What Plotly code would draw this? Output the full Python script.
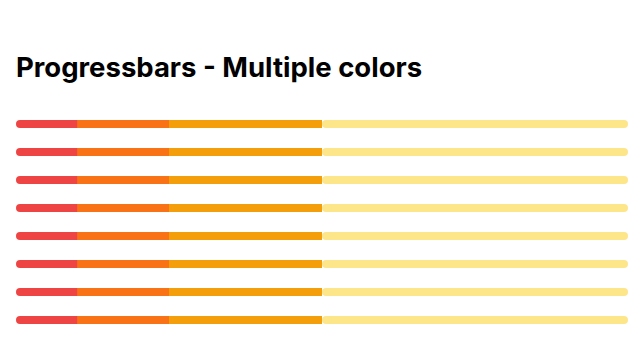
import plotly.graph_objects as go

# Progress rows and the share of each colored segment (percent of the track)
rows = ["Row 1", "Row 2", "Row 3", "Row 4", "Row 5", "Row 6", "Row 7", "Row 8"]
red_share = [10, 10, 10, 10, 10, 10, 10, 10]
orange_share = [15, 15, 15, 15, 15, 15, 15, 15]
amber_share = [25, 25, 25, 25, 25, 25, 25, 25]
yellow_share = [50, 50, 50, 50, 50, 50, 50, 50]

colors = {"red": "#ef4444", "orange": "#f97316", "amber": "#f59e0b", "yellow": "#fde68a"}

W, H = 644, 339
ml, mr, mt, mb = 16, 16, 110, 5
bar_px = 8
row_px = (H - mt - mb) / len(rows)
bw = bar_px / row_px

# Segment starts are the running sums of the shares before them
orange_base = red_share
amber_base = [a + b for a, b in zip(red_share, orange_share)]
yellow_base = [a + b for a, b in zip(amber_base, amber_share)]


def seg(x, base, color, radius):
    return go.Bar(y=rows, x=x, base=base, orientation="h", width=bw,
                  marker=dict(color=color, cornerradius=radius, line=dict(width=0)),
                  hoverinfo="skip")


fig = go.Figure()
# Yellow tail, rounded at the right end of the track
fig.add_trace(seg(yellow_share, yellow_base, colors["yellow"], "50%"))
# Red head: drawn leftwards from the end of the orange segment so its rounded
# tip lands at 0; the orange segment is laid over the part past the red share
fig.add_trace(seg([-v for v in amber_base], amber_base, colors["red"], "50%"))
fig.add_trace(seg(orange_share, orange_base, colors["orange"], 0))
fig.add_trace(seg(amber_share, amber_base, colors["amber"], 0))

fig.add_annotation(
    text="<b>Progressbars - Multiple colors</b>",
    xref="paper", yref="paper", x=-2 / (W - ml - mr), y=(H - mb - 67) / (H - mt - mb),
    xanchor="left", yanchor="middle", showarrow=False,
    font=dict(family="Inter", size=27.5, color="#000000"))

fig.update_layout(
    width=W, height=H, barmode="overlay", showlegend=False,
    margin=dict(l=ml, r=mr, t=mt, b=mb, pad=0),
    paper_bgcolor="white", plot_bgcolor="white",
    xaxis=dict(range=[0, 100], visible=False, fixedrange=True),
    yaxis=dict(categoryorder="array", categoryarray=rows, autorange="reversed",
               visible=False, fixedrange=True),
)

fig.write_html("out.html", config={"displayModeBar": False})
